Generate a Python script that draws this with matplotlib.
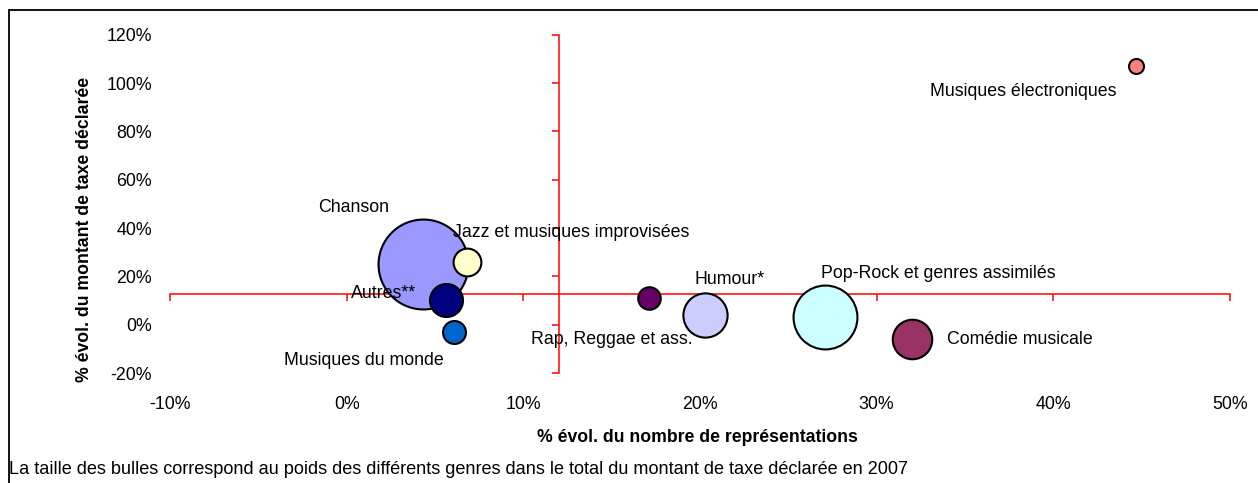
import matplotlib
matplotlib.use("Agg")
import matplotlib.pyplot as plt
from matplotlib.patches import Rectangle
from matplotlib.ticker import FuncFormatter

plt.rcParams["font.family"] = ["Liberation Sans", "DejaVu Sans"]

# Données (en %)
genres = [
    "Chanson",
    "Jazz et musiques improvisées",
    "Autres**",
    "Musiques du monde",
    "Rap, Reggae et ass.",
    "Humour*",
    "Pop-Rock et genres assimilés",
    "Comédie musicale",
    "Musiques électroniques",
]
evol_representations = [4.3, 6.8, 5.6, 6.1, 17.1, 20.3, 27.1, 32.0, 44.7]
evol_taxe = [25.1, 25.8, 10.4, -3.0, 11.1, 4.2, 3.0, -5.9, 106.9]
poids_taxe = [43.0, 4.1, 5.8, 2.8, 2.7, 10.4, 21.7, 8.3, 1.2]
couleurs = ["#9999FF", "#FFFFCC", "#000080", "#0066CC", "#660066",
            "#CCCCFF", "#CCFFFF", "#993366", "#FF8080"]

# position des étiquettes (coordonnées des données)
label_x = [0.4, 12.7, 2.1, 1.0, 15.0, 21.7, 33.5, 38.1, 38.3]
label_y = [48.3, 38.0, 12.9, -14.7, -6.2, 18.9, 21.0, -6.1, 96.4]

x_ticks = list(range(-10, 51, 10))
y_ticks = list(range(-20, 121, 20))
x_cross = 12.0
y_cross = 12.8

FS = 12.8
pct = FuncFormatter(lambda v, _: f"{v:.0f}%")

fig = plt.figure(figsize=(12.58, 4.83), dpi=100)
rect = [170 / 1258, 1 - 373 / 483, 1060 / 1258, 338.3 / 483]

# axes for the tick labels at the chart edges
lab = fig.add_axes(rect)
lab.set_xlim(-10, 50)
lab.set_ylim(-20, 120)
lab.set_xticks(x_ticks)
lab.set_yticks(y_ticks)
lab.xaxis.set_major_formatter(pct)
lab.yaxis.set_major_formatter(pct)
lab.tick_params(length=0, labelsize=FS)
lab.tick_params(axis="y", pad=13)
lab.tick_params(axis="x", pad=16.5)
for sp in lab.spines.values():
    sp.set_visible(False)
lab.patch.set_visible(False)

# main axes with red crossing axis lines
ax = fig.add_axes(rect)
ax.set_xlim(-10, 50)
ax.set_ylim(-20, 120)
ax.patch.set_visible(False)
ax.spines["top"].set_visible(False)
ax.spines["right"].set_visible(False)
ax.spines["left"].set_position(("data", x_cross))
ax.spines["bottom"].set_position(("data", y_cross))
for side in ["left", "bottom"]:
    ax.spines[side].set_color("red")
    ax.spines[side].set_linewidth(1.1)
    ax.spines[side].set_zorder(1)
ax.set_xticks(x_ticks)
ax.set_yticks(y_ticks)
ax.tick_params(colors="red", length=5, width=1.1, labelleft=False, labelbottom=False)

sizes = [p * 97.5 for p in poids_taxe]
for i in range(len(genres)):
    ax.scatter(evol_representations[i], evol_taxe[i], s=sizes[i], c=couleurs[i],
               edgecolors="black", linewidths=1.5, zorder=3 + i * 0.01, clip_on=False)
    ax.text(label_x[i], label_y[i], genres[i], ha="center", va="center",
            fontsize=FS, color="black", zorder=5)

fig.text(85 / 1258, 1 - 229 / 483, "% évol. du montant de taxe déclarée", rotation=90,
         ha="center", va="center", fontsize=12.7, fontweight="bold")
fig.text(697 / 1258, 1 - 438 / 483, "% évol. du nombre de représentations",
         ha="center", va="center", fontsize=12.7, fontweight="bold")
fig.text(9 / 1258, 1 - 470 / 483,
         "La taille des bulles correspond au poids des différents genres dans le total "
         "du montant de taxe déclarée en 2007",
         ha="left", va="center", fontsize=13.1)

# cadre du graphique (coupé à droite et en bas)
fig.add_artist(Rectangle((9 / 1258, -0.2), 1.2, 1.2 + (1 - 10 / 483) - 1.0,
                         transform=fig.transFigure, fill=False,
                         edgecolor="black", linewidth=1.3, clip_on=False))

fig.savefig("out.png", dpi=100)
